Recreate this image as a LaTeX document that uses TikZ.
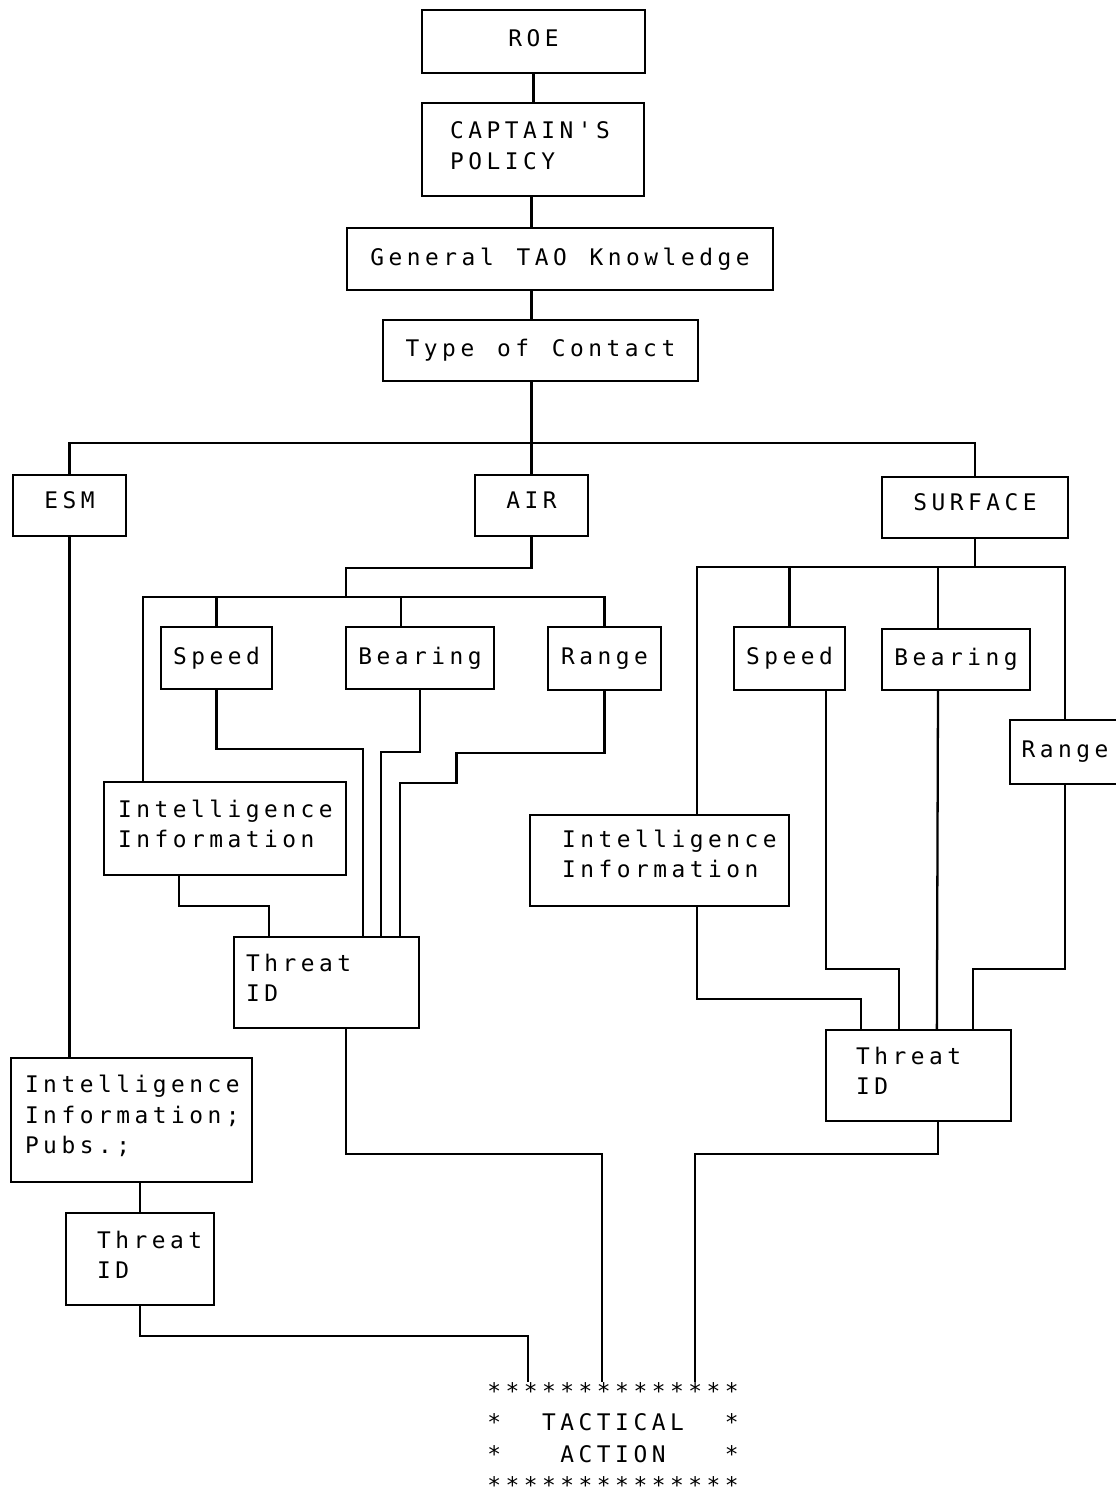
\documentclass[tikz,border=0pt]{standalone}
\usepackage{fontspec}
\usetikzlibrary{calc}
\newfontfamily\dotfont{DejaVu Sans Mono}[LetterSpace=19.8]
% printer font: 13pt glyphs on a fixed pitch of 10.4pt
\newcommand\dotset[1]{\dotfont\fontsize{13}{#1}\selectfont
  \fontdimen2\font=10.4pt\fontdimen3\font=0pt\fontdimen4\font=0pt\hyphenpenalty=10000 }
% word gap: the letter space lost before a blank, then one blank
\newcommand\tgap{\kern2.57pt\ }

\tikzset{
  % centred one-line boxes: width, height (px)
  cbox/.style 2 args={draw, line width=1.3pt, inner sep=0pt, align=center,
    minimum width=#1*0.02cm, minimum height=#2*0.02cm},
  % boxes with text set flush left: width, height, left pad (px)
  lbox/.style n args={3}{draw, line width=1.3pt, inner ysep=0pt, align=left,
    minimum width=#1*0.02cm, minimum height=#2*0.02cm, inner xsep=#3*0.02cm,
    /utils/exec={\pgfmathsetlengthmacro\lboxtw{(#1-2*#3)*0.02cm}},
    text width=\lboxtw},
  link/.style={line width=1.3pt},
}

\begin{document}
\begin{tikzpicture}[x=0.02cm, y=-0.02cm, font={\dotset{17.1pt}}]
  \useasboundingbox (0,0) rectangle (1115,1496);

  % top chain
  \node[cbox={223}{63}, text depth=3.4pt] (roe) at (533.5,41.5) {ROE};
  \node[lbox={222}{93}{28}, text depth=21.6pt] (capt) at (533,149.5) {CAPTAIN'S\\POLICY};
  \node[cbox={426}{62}] (gen) at (560,259) {General\tgap TAO\tgap Knowledge};
  \node[cbox={315}{61}] (type) at (540.5,350.5) {Type\tgap of\tgap Contact};

  % contact kinds
  \node[cbox={113}{61}, text depth=5.7pt] (esm) at (69.5,505.5) {ESM};
  \node[cbox={113}{61}, text depth=5.7pt] (air) at (531.5,505.5) {AIR};
  \node[cbox={186}{61}, text depth=5.7pt] (surf) at (975,507.5) {SURFACE};

  % air branch
  \node[cbox={111}{62}] (aspeed) at (216.5,658) {Speed};
  \node[cbox={148}{62}] (abear) at (420,658) {Bearing};
  \node[cbox={113}{63}] (arange) at (604.5,658.5) {Range};
  \node[lbox={242}{93}{14}, text depth=22.8pt] (aintel) at (225,828.5) {Intelligence\\Information};
  \node[lbox={185}{91}{12}, text depth=22.8pt] (athreat) at (326.5,982.5) {Threat\\ID};

  % surface branch
  \node[cbox={111}{63}] (sspeed) at (789.5,658.5) {Speed};
  \node[cbox={148}{61}] (sbear) at (956,659.5) {Bearing};
  \node[cbox={110}{64}] (srange) at (1065,752) {Range};
  \node[lbox={259}{91}{32}, text depth=24.5pt] (sintel) at (659.5,860.5) {Intelligence\\Information};
  \node[lbox={185}{91}{30}, text depth=22.8pt] (sthreat) at (918.5,1075.5) {Threat\\ID};

  % esm branch
  \node[lbox={241}{124}{14}, text depth=40.7pt] (eintel) at (131.5,1120) {Intelligence\\Information;\\Pubs.;};
  \node[lbox={148}{92}{31}, text depth=21.6pt] (ethreat) at (140,1259) {Threat\\ID};

  % outcome
  \node[inner sep=0pt, align=left, font={\dotset{17.8pt}}] (tact) at (613,1438)
    {**************\\*\tgap\ TACTICAL\tgap\ *\\*\tgap\ \ ACTION\tgap\ \ *\\**************};

  \coordinate (bus) at (531.5,443);
  \coordinate (abus) at (346,597);
  \coordinate (sbus) at (975,567);

  % top chain links
  \draw[link] (roe.south) -- (roe.south |- capt.north);
  \draw[link] (capt.south -| air.north) -- (gen.north -| air.north);
  \draw[link] (gen.south -| air.north) -- (type.north -| air.north);
  \draw[link] (type.south -| air.north) -- (air.north);
  \draw[link] (esm.north) |- (bus) -| (surf.north);

  % air links
  \draw[link] (air.south) -- ++(0,31) -| (abus);
  \draw[link] ($(aintel.north)+(-82,0)$) |- (abus) -| (arange.north);
  \draw[link] (aspeed.north) -- (aspeed.north |- abus);
  \draw[link] ($(abear.north)+(-19,0)$) -- ++(0,-30);
  \draw[link] ($(aintel.south)+(-46,0)$) -- ++(0,30) -| ($(athreat.north west)+(36,0)$);
  \draw[link] (aspeed.south) -- ++(0,59) -| ($(athreat.north west)+(130,0)$);
  \draw[link] (abear.south) -- ++(0,62) -| ($(athreat.north west)+(148,0)$);
  \draw[link] (arange.south) -- ++(0,62) -| ++(-148,30) -| ($(athreat.north west)+(167,0)$);

  % surface links
  \draw[link] (surf.south) -- (sbus);
  \draw[link] ($(sintel.north)+(37.5,0)$) |- (sbus) -| (srange.north);
  \draw[link] (sspeed.north) -- (sspeed.north |- sbus);
  \draw[link] ($(sbear.north)+(-18,0)$) -- ++(0,-62);
  \draw[link] ($(sintel.south)+(37.5,0)$) -- ++(0,92) -| ($(sthreat.north west)+(36,0)$);
  \draw[link] ($(sspeed.south)+(36.5,0)$) -- ++(0,278) -| ($(sthreat.north west)+(74,0)$);
  \draw[link] ($(sbear.south)+(-18,0)$) -- ($(sthreat.north west)+(112,0)$);
  \draw[link] (srange.south) -- ++(0,184) -| ($(sthreat.north west)+(148,0)$);

  % esm links
  \draw[link] (esm.south) -- (esm.south |- eintel.north);
  \draw[link] (ethreat.north |- eintel.south) -- (ethreat.north);

  % into tactical action
  \draw[link] (ethreat.south) -- ++(0,30) -| ($(tact.north)+(-85,0)$);
  \draw[link] ($(athreat.south)+(19.5,0)$) -- ++(0,125) -| ($(tact.north)+(-11,0)$);
  \draw[link] ($(sthreat.south)+(19.5,0)$) -- ++(0,32) -| ($(tact.north)+(82,0)$);
\end{tikzpicture}
\end{document}
